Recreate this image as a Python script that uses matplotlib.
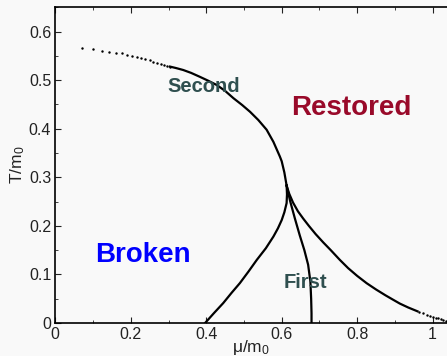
import matplotlib
matplotlib.use("Agg")
import matplotlib.pyplot as plt
from matplotlib.ticker import MultipleLocator

plt.rcParams['font.family'] = ['Liberation Sans', 'DejaVu Sans']
plt.rcParams['mathtext.fontset'] = 'custom'
plt.rcParams['mathtext.rm'] = 'Liberation Sans'
plt.rcParams['mathtext.it'] = 'Liberation Sans'

# second-order line, dotted part (low mu)
dots_mu = [0.070, 0.101, 0.125, 0.143, 0.161, 0.176, 0.191, 0.203, 0.216,
           0.228, 0.239, 0.250, 0.260, 0.270, 0.279, 0.288, 0.296, 0.304]
dots_T = [0.566, 0.564, 0.561, 0.559, 0.557, 0.555, 0.552, 0.550, 0.548,
          0.545, 0.543, 0.541, 0.538, 0.536, 0.534, 0.532, 0.530, 0.528]

# second-order line, solid part down to the critical point
second_mu = [0.304, 0.32, 0.339, 0.36, 0.383, 0.405, 0.428, 0.45, 0.472, 0.495,
             0.516, 0.538, 0.560, 0.578, 0.595, 0.600, 0.607, 0.613]
second_T = [0.528, 0.525, 0.521, 0.515, 0.507, 0.499, 0.490, 0.478, 0.463, 0.449,
            0.435, 0.418, 0.398, 0.373, 0.343, 0.333, 0.310, 0.283]

# right branch from the critical point to high mu
right_mu = [0.613, 0.620, 0.630, 0.643, 0.657, 0.672, 0.690, 0.710, 0.730, 0.754,
            0.776, 0.80, 0.825, 0.85, 0.875, 0.895, 0.913, 0.935, 0.96]
right_T = [0.283, 0.266, 0.248, 0.230, 0.215, 0.200, 0.183, 0.166, 0.150, 0.130,
           0.113, 0.097, 0.082, 0.069, 0.057, 0.048, 0.040, 0.032, 0.024]

# dotted tail at high mu
tail_mu = [0.965, 0.975, 0.985, 0.993, 1.000, 1.008, 1.015, 1.022, 1.028, 1.035]
tail_T = [0.023, 0.020, 0.017, 0.015, 0.013, 0.011, 0.0097, 0.008, 0.006, 0.005]

# left branch (from critical point down to T=0)
left_mu = [0.613, 0.614, 0.613, 0.607, 0.600, 0.590, 0.578, 0.558, 0.534, 0.512,
           0.489, 0.467, 0.445, 0.420, 0.397]
left_T = [0.283, 0.265, 0.247, 0.228, 0.212, 0.195, 0.178, 0.154, 0.130, 0.106,
          0.082, 0.062, 0.041, 0.020, 0.0]

# middle branch (first-order line)
first_mu = [0.613, 0.622, 0.635, 0.648, 0.660, 0.670, 0.676, 0.678, 0.679, 0.679]
first_T = [0.283, 0.252, 0.215, 0.180, 0.150, 0.120, 0.085, 0.050, 0.020, 0.0]

fig = plt.figure(figsize=(4.47, 3.56), dpi=100, facecolor='#f9f9f9')
ax = fig.add_axes([0.1237, 0.0927, 0.8763, 0.888])
ax.set_facecolor('#f9f9f9')

ax.plot(dots_mu, dots_T, 'k.', ms=3.5, mew=0)
ax.plot(second_mu, second_T, 'k-', lw=1.6)
ax.plot(right_mu, right_T, 'k-', lw=1.6)
ax.plot(tail_mu, tail_T, 'k.', ms=3.5, mew=0)
ax.plot(left_mu, left_T, 'k-', lw=1.6)
ax.plot(first_mu, first_T, 'k-', lw=1.6)

ax.text(0.393, 0.486, 'Second', color='#2f4f4f', fontsize=14.5,
        fontweight='bold', ha='center', va='center')
ax.text(0.664, 0.083, 'First', color='#2f4f4f', fontsize=14.5,
        fontweight='bold', ha='center', va='center')
ax.text(0.785, 0.442, 'Restored', color='#990a2a', fontsize=20,
        fontweight='bold', ha='center', va='center')
ax.text(0.233, 0.14, 'Broken', color='#0000ff', fontsize=20,
        fontweight='bold', ha='center', va='center')

ax.set_xlim(0, 1.038)
ax.set_ylim(0, 0.651)
ax.xaxis.set_minor_locator(MultipleLocator(0.1))
ax.yaxis.set_minor_locator(MultipleLocator(0.05))
ax.set_xticks([0, 0.2, 0.4, 0.6, 0.8, 1.0])
ax.set_xticklabels(['0', '0.2', '0.4', '0.6', '0.8', '1'])
ax.set_yticks([0, 0.1, 0.2, 0.3, 0.4, 0.5, 0.6])
ax.set_yticklabels(['0', '0.1', '0.2', '0.3', '0.4', '0.5', '0.6'])
ax.tick_params(which='both', direction='in', top=True, labelsize=11.5,
               colors='#222222', pad=3)
ax.tick_params(which='major', length=4)
ax.tick_params(which='minor', length=2.5)
ax.spines['right'].set_visible(False)
for s in ['left', 'bottom', 'top']:
    ax.spines[s].set_linewidth(1.2)

ax.set_xlabel(r'$\mathrm{\mu/m_0}$', fontsize=12.5, labelpad=-3, color='#222222')
ax.set_ylabel(r'$\mathrm{T/m_0}$', fontsize=12.5, labelpad=1, color='#222222')

fig.savefig('out.png', dpi=100, facecolor=fig.get_facecolor())
